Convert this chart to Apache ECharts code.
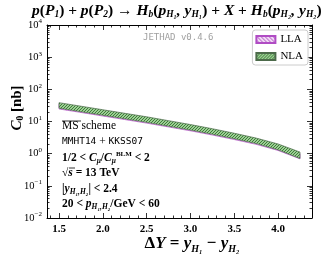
<!DOCTYPE html>
<html><head><meta charset="utf-8">
<script src="https://cdn.jsdelivr.net/npm/echarts@6/dist/echarts.min.js"></script>
<style>html,body{margin:0;padding:0;background:#fff}#c{width:330px;height:254px}</style>
</head><body><div id="c"></div>
<script>
// ---- data ----
const dY = [1.5, 1.75, 2.0, 2.25, 2.5, 2.75, 3.0, 3.25, 3.5, 3.75, 4.0, 4.25];
const llaLow  = [24.5, 19.1, 14.8, 11.5, 8.91, 6.76, 5.13, 3.80, 2.75, 1.95, 1.26, 0.69];
const llaHigh = [35.5, 27.5, 21.4, 16.6, 12.9, 9.77, 7.41, 5.50, 3.98, 2.82, 1.82, 1.00];
const nlaLow  = [26.0, 20.2, 15.7, 12.2, 9.44, 7.16, 5.43, 4.03, 2.92, 2.07, 1.32, 0.71];
const nlaHigh = [38.5, 29.9, 23.2, 18.0, 14.0, 10.6, 8.04, 5.96, 4.32, 3.05, 2.00, 1.12];
const xTicks = [1.5, 2.0, 2.5, 3.0, 3.5, 4.0];
const yTickExps = [-2, -1, 0, 1, 2, 3, 4];
const xMin = 1.3625, xMax = 4.3875;
const yMin = 0.01, yMax = 10000;

// minor tick positions
const xMinor = [];
for (let v = 14; v <= 43; v++) { if (v % 5 !== 0) xMinor.push(v / 10); }
const yMajor = yTickExps.map(e => Math.pow(10, e));
const yMinor = [];
for (let e = -2; e < 4; e++) for (let k = 2; k <= 9; k++) yMinor.push(+(k * Math.pow(10, e)).toPrecision(3));

const serif = '"Liberation Serif", "DejaVu Serif", serif';
const mono = '"DejaVu Sans Mono", "Liberation Mono", monospace';

function makePattern(kind) {
  const c = document.createElement('canvas');
  if (kind === 'lla') {
    c.width = 4; c.height = 4;
    const g = c.getContext('2d');
    g.fillStyle = '#efd9f3'; g.fillRect(0, 0, 4, 4);
    g.strokeStyle = '#b457c6'; g.lineWidth = 1;
    g.beginPath();
    g.moveTo(-1, -1); g.lineTo(5, 5);
    g.moveTo(-1, 3); g.lineTo(1, 5);
    g.moveTo(3, -1); g.lineTo(5, 1);
    g.stroke();
  } else {
    c.width = 3; c.height = 3;
    const g = c.getContext('2d');
    g.fillStyle = '#9ccf94'; g.fillRect(0, 0, 3, 3);
    g.fillStyle = '#3f7a3a';
    g.fillRect(0, 0, 1, 1); g.fillRect(2, 1, 1, 1); g.fillRect(1, 2, 1, 1);
  }
  return { image: c, repeat: 'repeat' };
}
const llaPat = makePattern('lla');
const nlaPat = makePattern('nla');

function bandSeries(name, low, high, pat, edge) {
  return {
    name: name, type: 'custom', coordinateSystem: 'cartesian2d',
    xAxisIndex: 0, yAxisIndex: 0,
    itemStyle: { color: pat, borderColor: edge, borderWidth: 0.8 },
    data: dY.map((x, i) => [x, low[i], high[i]]),
    encode: { x: 0, y: [1, 2] },
    renderItem: function (params, api) {
      if (params.dataIndex !== 0) return null;
      const pts = [];
      for (let i = 0; i < dY.length; i++) pts.push(api.coord([dY[i], high[i]]));
      for (let i = dY.length - 1; i >= 0; i--) pts.push(api.coord([dY[i], low[i]]));
      return { type: 'polygon', shape: { points: pts },
        style: { fill: pat, stroke: edge, lineWidth: 0.7 } };
    },
    z: name === 'NLA' ? 3 : 2
  };
}

function yLab(v) {
  const e = Math.round(Math.log10(v));
  return '{b|10}{s|' + String(e).replace('-', '−') + '}';
}

function xAx(pos, major, labels) {
  return {
    type: 'value', position: pos, min: xMin, max: xMax,
    axisLine: { show: major, lineStyle: { color: '#000', width: 1 } },
    axisTick: { show: true, inside: true, length: major ? 5 : 2.5, customValues: major ? xTicks : xMinor, lineStyle: { color: '#000', width: 0.8 } },
    axisLabel: labels ? { show: true, customValues: xTicks, formatter: v => v.toFixed(1),
      fontFamily: serif, fontWeight: 'bold', fontSize: 11, color: '#000', margin: 6 } : { show: false },
    splitLine: { show: false }
  };
}
function yAx(pos, major, labels) {
  return {
    type: 'log', position: pos, min: yMin, max: yMax, logBase: 10,
    axisLine: { show: major, lineStyle: { color: '#000', width: 1 } },
    axisTick: { show: true, inside: true, length: major ? 5 : 2.5, customValues: major ? yMajor : yMinor, lineStyle: { color: '#000', width: 0.8 } },
    axisLabel: labels ? { show: true, customValues: yMajor, formatter: yLab, margin: 5,
      rich: { b: { fontFamily: serif, fontSize: 10.5, color: '#000', lineHeight: 14 },
              s: { fontFamily: serif, fontSize: 7, color: '#000', verticalAlign: 'top', lineHeight: 8 } } } : { show: false },
    splitLine: { show: false }
  };
}

const mRich = {
  m: { fontFamily: serif, fontStyle: 'italic', fontWeight: 'bold', fontSize: 15.5, color: '#000', lineHeight: 18 },
  r: { fontFamily: serif, fontWeight: 'bold', fontSize: 15.5, color: '#000', lineHeight: 18 },
  s: { fontFamily: serif, fontStyle: 'italic', fontWeight: 'bold', fontSize: 9.5, color: '#000', verticalAlign: 'bottom', lineHeight: 12 }
};
const yRich = {
  m: { fontFamily: serif, fontStyle: 'italic', fontWeight: 'bold', fontSize: 15, color: '#000', lineHeight: 18 },
  r: { fontFamily: serif, fontWeight: 'bold', fontSize: 15, color: '#000', lineHeight: 18 },
  s: { fontFamily: serif, fontWeight: 'bold', fontSize: 9.5, color: '#000', verticalAlign: 'bottom', lineHeight: 12 }
};
const tRich = {
  n: { fontFamily: serif, fontSize: 11.5, color: '#000', lineHeight: 14 },
  bi: { fontFamily: serif, fontStyle: 'italic', fontWeight: 'bold', fontSize: 11.5, color: '#000', lineHeight: 14 },
  b: { fontFamily: serif, fontWeight: 'bold', fontSize: 11.5, color: '#000', lineHeight: 14 },
  s: { fontFamily: serif, fontStyle: 'italic', fontWeight: 'bold', fontSize: 7.5, color: '#000', verticalAlign: 'bottom', lineHeight: 10 },
  sr: { fontFamily: serif, fontWeight: 'bold', fontSize: 7, color: '#000', verticalAlign: 'top', lineHeight: 10 },
  t: { fontFamily: mono, fontSize: 9.5, color: '#000', lineHeight: 14 }
};
function txt(x, y, s) {
  return { type: 'text', left: x, top: y, style: { text: s, rich: tRich, fill: '#000' }, z: 10 };
}

const chart = echarts.init(document.getElementById('c'), null, { renderer: 'canvas' });
chart.setOption({
  animation: false,
  backgroundColor: '#fff',
  grid: { left: 47, right: 18, top: 25, bottom: 36, containLabel: false },
  xAxis: [xAx('bottom', true, true), xAx('bottom', false, false), xAx('top', true, false), xAx('top', false, false)],
  yAxis: [yAx('left', true, true), yAx('left', false, false), yAx('right', true, false), yAx('right', false, false)],
  legend: {
    orient: 'vertical', right: 22, top: 30, itemWidth: 19, itemHeight: 7, itemGap: 6,
    padding: [4, 5, 3, 3], borderColor: '#cccccc', borderWidth: 1, borderRadius: 3,
    backgroundColor: 'rgba(255,255,255,0.85)', icon: 'rect',
    textStyle: { fontFamily: serif, fontSize: 11, color: '#000' },
    data: ['LLA', 'NLA']
  },
  series: [
    bandSeries('LLA', llaLow, llaHigh, llaPat, '#b04cc4'),
    bandSeries('NLA', nlaLow, nlaHigh, nlaPat, '#4c6a4a')
  ],
  graphic: [
    { type: 'text', left: 32, top: 3, style: { rich: mRich,
      text: '{m|p}{r|(}{m|P}{s|1}{r|) + }{m|p}{r|(}{m|P}{s|2}{r|) → }{m|H}{s|b}{r|(}{m|p}{s|H₁}{m|, y}{s|H₁}{r|) + }{m|X}{r| + }{m|H}{s|b}{r|(}{m|p}{s|H₂}{m|, y}{s|H₂}{r|)}' }, z: 10 },
    { type: 'text', left: 143, top: 33, style: { text: 'JETHAD v0.4.6', fontFamily: mono, fontSize: 9, fill: '#a0a0a0' }, z: 10 },
    { type: 'text', x: 17, y: 108, rotation: Math.PI / 2, style: { rich: yRich, align: 'center', verticalAlign: 'middle',
      text: '{m|C}{s|0}{r| [nb]}' }, z: 10 },
    { type: 'text', x: 192, y: 244, style: { align: 'center', verticalAlign: 'middle', rich: {
        m: { fontFamily: serif, fontStyle: 'italic', fontWeight: 'bold', fontSize: 17, color: '#000', lineHeight: 20 },
        r: { fontFamily: serif, fontWeight: 'bold', fontSize: 17, color: '#000', lineHeight: 20 },
        s: { fontFamily: serif, fontStyle: 'italic', fontWeight: 'bold', fontSize: 10, color: '#000', verticalAlign: 'bottom', lineHeight: 13 } },
      text: '{r|Δ}{m|Y}{r| = }{m|y}{s|H₁}{r| − }{m|y}{s|H₂}' }, z: 10 },
    txt(62, 120, '{n|MS scheme}'),
    { type: 'line', shape: { x1: 62, y1: 121, x2: 81, y2: 121 }, style: { stroke: '#000', lineWidth: 0.8 }, z: 10 },
    txt(62, 136, '{t|MMHT14}{n| + }{t|KKSS07}'),
    txt(62, 151, '{b|1/2 < }{bi|C}{s|μ}{b|/}{bi|C}{s|μ}{sr|BLM}{b| < 2}'),
    txt(62, 167, '{b|√}{bi|s}{b| = 13 TeV}'),
    { type: 'line', shape: { x1: 69, y1: 168, x2: 75, y2: 168 }, style: { stroke: '#000', lineWidth: 0.8 }, z: 10 },
    txt(62, 183, '{b||}{bi|y}{s|H₁,H₂}{b|| < 2.4}'),
    txt(62, 198, '{b|20 < }{bi|p}{s|H₁,H₂}{b|/GeV < 60}')
  ]
});
</script></body></html>
